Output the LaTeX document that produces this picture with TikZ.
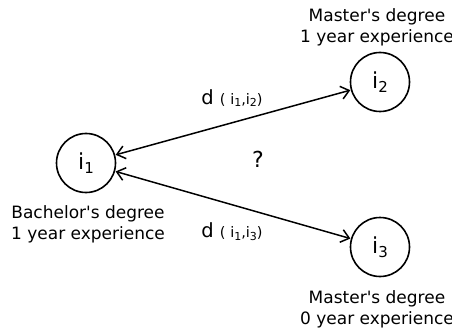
\documentclass[tikz,border=0pt]{standalone}
\usepackage{fontspec}
\setmainfont{DejaVu Sans}
\usetikzlibrary{arrows.meta}
% lowered index of the given size
\newcommand\lowidx[2]{\raisebox{-0.35ex}{\fontsize{#1}{#1}\selectfont #2}}
\newcommand\distlabel[2]{d {\fontsize{14.5}{16}\selectfont( i\lowidx{11}{#1},i\lowidx{11}{#2})}}
\newcommand\apos{\textquotesingle}
\begin{document}
\begin{tikzpicture}[x=1pt,y=-1pt,
  person/.style={circle,draw,line width=1.6pt,minimum size=59pt,inner sep=0pt,font=\fontsize{22}{24}\selectfont},
  caption/.style={align=center,font=\fontsize{17}{21}\selectfont},
  dist/.style={font=\fontsize{19.5}{22}\selectfont},
  tip/.style={Straight Barb[length=8pt,width=13pt,line width=1.5pt]},
  link/.style={line width=1.5pt,{Straight Barb[length=8pt,width=13pt,line width=1.5pt]}-{Straight Barb[length=8pt,width=13pt,line width=1.5pt]},shorten <=0.5pt,shorten >=0.5pt}]
\useasboundingbox (0,0) rectangle (452,334);
\node[person] (a) at (86,163) {i\lowidx{15}{1}};
\node[person] (b) at (380,82) {i\lowidx{15}{2}};
\node[person] (c) at (380,247) {i\lowidx{15}{3}};
\node[caption] (ta) at (88,224) {Bachelor\apos s degree\\1 year experience};
\node[caption] (tb) at (377,27) {Master\apos s degree\\1 year experience};
\node[caption] (tc) at (377,309) {Master\apos s degree\\0 year experience};
\draw[link] (a) -- (b);
\draw[link] (a) -- (c);
\node[dist] (db) at (232,98) {\distlabel{1}{2}};
\node[dist] (dc) at (232,232) {\distlabel{1}{3}};
\node[dist,font=\fontsize{22}{24}\selectfont] (q) at (258,159) {?};
\end{tikzpicture}
\end{document}
